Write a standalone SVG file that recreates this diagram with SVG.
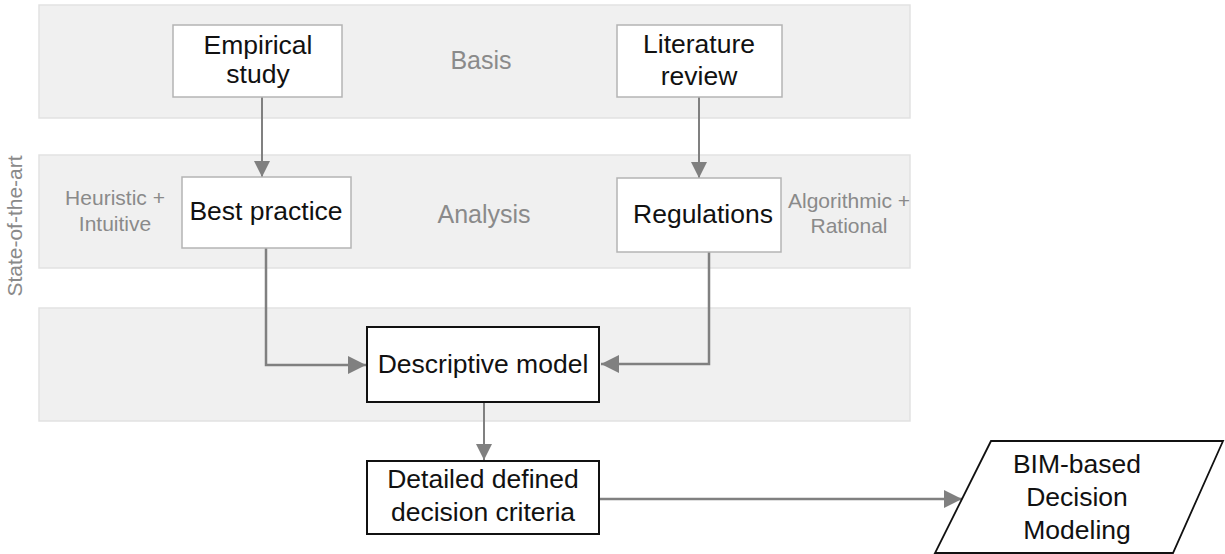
<svg xmlns="http://www.w3.org/2000/svg" width="1225" height="554" viewBox="0 0 1225 554">
<defs>
<style>
.band{fill:#f0f0f0;stroke:#e2e2e2;stroke-width:1.5}
.lbox{fill:#fff;stroke:#b4b4b4;stroke-width:1.5}
.dbox{fill:#fff;stroke:#111;stroke-width:2}
.t{font-family:"Liberation Sans",Arial,sans-serif;font-size:26.5px;fill:#111;text-anchor:middle}
.g{font-family:"Liberation Sans",Arial,sans-serif;font-size:25px;fill:#8a8a8a;text-anchor:middle}
.gs{font-family:"Liberation Sans",Arial,sans-serif;font-size:21px;fill:#8a8a8a;text-anchor:middle}
.c{fill:none;stroke:#808080}
</style>
<marker id="ah" viewBox="0 0 10 10" refX="10" refY="5" markerWidth="16" markerHeight="16" markerUnits="userSpaceOnUse" orient="auto">
<path d="M0,0 L10,5 L0,10 Z" fill="#808080"/>
</marker>
<marker id="ahL" viewBox="0 0 10 10" refX="10" refY="5" markerWidth="18" markerHeight="18" markerUnits="userSpaceOnUse" orient="auto">
<path d="M0,0 L10,5 L0,10 Z" fill="#808080"/>
</marker>
</defs>
<g id="bands">
<rect class="band" x="39" y="5" width="871" height="113"/>
<rect class="band" x="39" y="155" width="871" height="113"/>
<rect class="band" x="39" y="308" width="871" height="113"/>
<text class="g" x="481" y="69">Basis</text>
<text class="g" x="484" y="223">Analysis</text>
<text class="gs" x="115" y="205">Heuristic +</text>
<text class="gs" x="115" y="231">Intuitive</text>
<text class="gs" x="849" y="208">Algorithmic +</text>
<text class="gs" x="849" y="233">Rational</text>
<text class="gs" transform="translate(22,226) rotate(-90)">State-of-the-art</text>
</g>
<g id="connectors">
<line class="c" stroke-width="2" x1="262" y1="97" x2="262" y2="177" marker-end="url(#ah)"/>
<line class="c" stroke-width="2" x1="699" y1="97" x2="699" y2="178" marker-end="url(#ah)"/>
<polyline class="c" stroke-width="2.5" points="266,248 266,365 366,365" marker-end="url(#ahL)"/>
<polyline class="c" stroke-width="2.5" points="709,252 709,364 601,364" marker-end="url(#ahL)"/>
<line class="c" stroke-width="2" x1="484" y1="402" x2="484" y2="460" marker-end="url(#ah)"/>
<line class="c" stroke-width="2.5" x1="600" y1="499" x2="962" y2="499" marker-end="url(#ahL)"/>
</g>
<g id="empirical">
<rect class="lbox" x="173" y="25" width="169" height="72"/>
<text class="t" x="258" y="54">Empirical</text>
<text class="t" x="258" y="83">study</text>
</g>
<g id="literature">
<rect class="lbox" x="617" y="25" width="165" height="72"/>
<text class="t" x="699" y="53">Literature</text>
<text class="t" x="699" y="85">review</text>
</g>
<g id="best-practice">
<rect class="lbox" x="182" y="177" width="169" height="71"/>
<text class="t" x="266" y="220">Best practice</text>
</g>
<g id="regulations">
<rect class="lbox" x="617" y="178" width="164" height="74"/>
<text class="t" x="703" y="223">Regulations</text>
</g>
<g id="descriptive">
<rect class="dbox" x="367" y="327" width="232" height="75"/>
<text class="t" x="483" y="373">Descriptive model</text>
</g>
<g id="detailed">
<rect class="dbox" x="367" y="461" width="232" height="73"/>
<text class="t" x="483" y="488">Detailed defined</text>
<text class="t" x="483" y="521">decision criteria</text>
</g>
<g id="bim">
<polygon points="991,441 1223,441 1173,553 935,553" fill="#fff" stroke="#111" stroke-width="1.8"/>
<text class="t" x="1077" y="473">BIM-based</text>
<text class="t" x="1077" y="506">Decision</text>
<text class="t" x="1077" y="539">Modeling</text>
</g>
</svg>
